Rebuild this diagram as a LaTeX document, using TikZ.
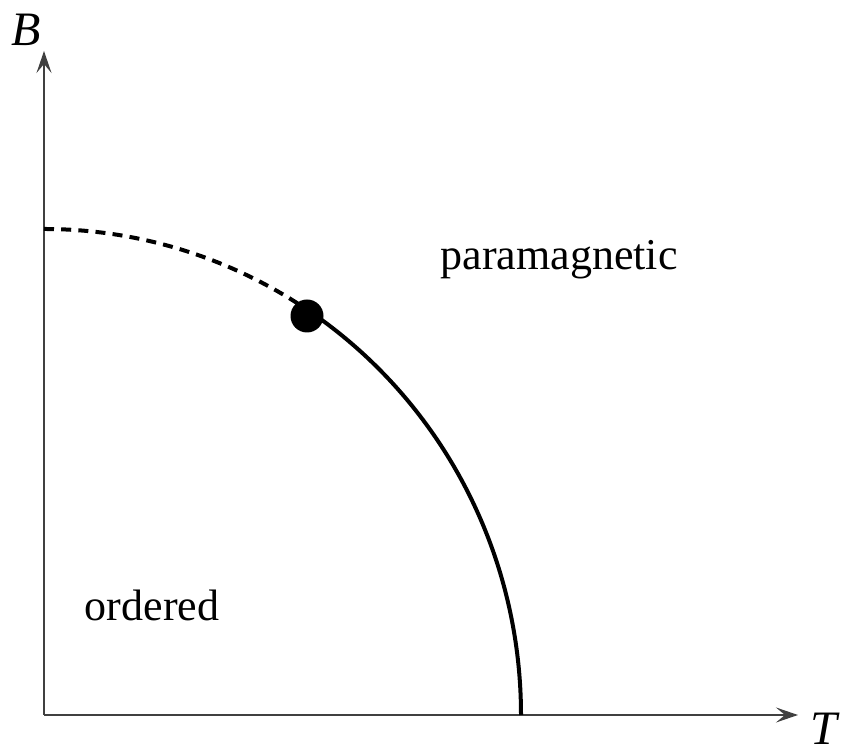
\documentclass[tikz,border=0pt]{standalone}
\usepackage{fontspec}
\setmainfont{Liberation Serif}
\usetikzlibrary{arrows.meta}
\begin{document}
\begin{tikzpicture}[x=0.5pt,y=0.5pt,
  axis/.style={line width=1.1pt, black!75, -{Stealth[length=11pt,width=7.5pt,inset=4.5pt]}},
  phaseline/.style={line width=2pt, black},
  dashline/.style={line width=2pt, black, dash pattern=on 5pt off 3.6pt},
  lbl/.style={font=\fontsize{22}{26}\selectfont, inner sep=0pt},
  axlbl/.style={font=\fontsize{24}{28}\selectfont\itshape, inner sep=0pt}]
\useasboundingbox (0,0) rectangle (845,753);
\coordinate (O) at (44,38);
\coordinate (ytip) at (44,702);
\coordinate (xtip) at (798,38);
\draw[axis] (O) -- (ytip);
\draw[axis] (O) -- (xtip);
\node[axlbl] (B) at (26,723) {B};
\node[axlbl] (T) at (824,24) {T};
\coordinate (top) at (44,524);
\draw[dashline] (top) arc[start angle=90, end angle=56.5, x radius=238.5pt, y radius=243pt] coordinate (crit);
\draw[phaseline] (crit) arc[start angle=56.5, end angle=0, x radius=238.5pt, y radius=243pt] coordinate (tc);
\node[circle, fill=black, minimum size=16.5pt, inner sep=0pt] (dot) at (307,437) {};
\node[lbl] (para) at (559,493) {paramagnetic};
\node[lbl] (ord) at (152,148) {ordered};
\end{tikzpicture}
\end{document}
